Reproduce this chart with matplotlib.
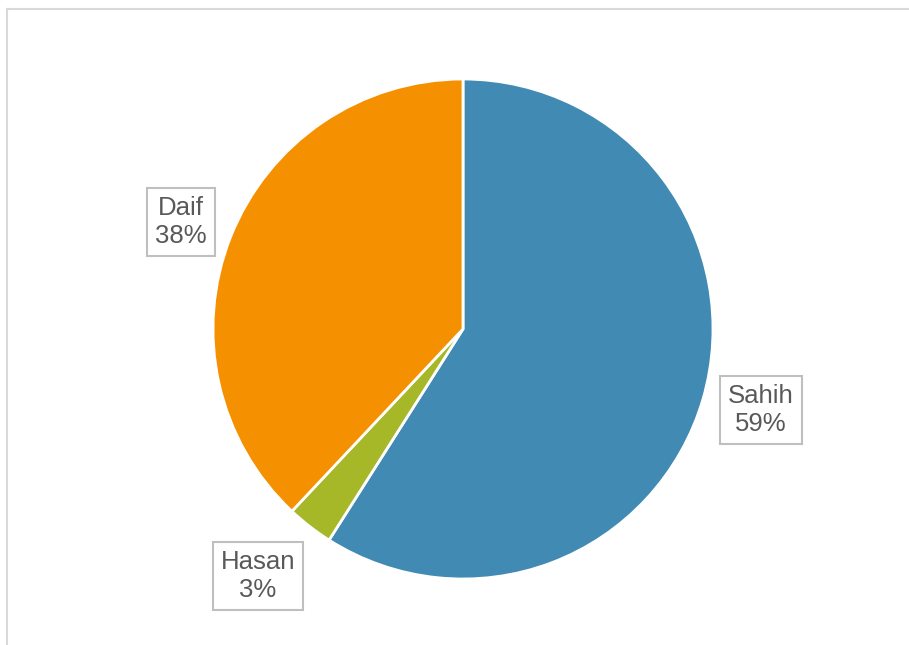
import matplotlib.pyplot as plt
from matplotlib.lines import Line2D

# Data
labels = ["Sahih", "Hasan", "Daif"]
shares = [59, 3, 38]
colors = ["#418AB3", "#A6B727", "#F59100"]

# label anchor points (data coords, pie radius = 1)
label_x = [1.192, -0.82, -1.128]
label_y = [-0.324, -0.988, 0.428]

plt.rcParams["font.family"] = ["Liberation Sans", "DejaVu Sans"]

fig = plt.figure(figsize=(9.09, 6.45), dpi=100)
ax = fig.add_axes([0, 0, 1, 1])

ax.pie(shares, colors=colors, startangle=90, counterclock=False,
       radius=1.0, wedgeprops=dict(edgecolor="white", linewidth=2))

for lab, val, x, y in zip(labels, shares, label_x, label_y):
    ax.text(x, y, f"{lab}\n{val}%", ha="center", va="center", fontsize=18.5,
            color="#595959", linespacing=1.2,
            bbox=dict(boxstyle="square,pad=0.3", fc="white", ec="#BFBFBF", lw=1.5))

ax.set_xlim(-463 / 250, (909 - 463) / 250)
ax.set_ylim((329 - 645) / 250, 329 / 250)
ax.set_aspect("equal")
ax.axis("off")

# outer chart frame (only top and left visible in the crop)
fig.add_artist(Line2D([7.5 / 909, 7.5 / 909], [0, 1 - 8.5 / 645],
                      transform=fig.transFigure, color="#D9D9D9", lw=1.5))
fig.add_artist(Line2D([7.5 / 909, 1], [1 - 8.5 / 645, 1 - 8.5 / 645],
                      transform=fig.transFigure, color="#D9D9D9", lw=1.5))

plt.savefig("out.png", dpi=100)
